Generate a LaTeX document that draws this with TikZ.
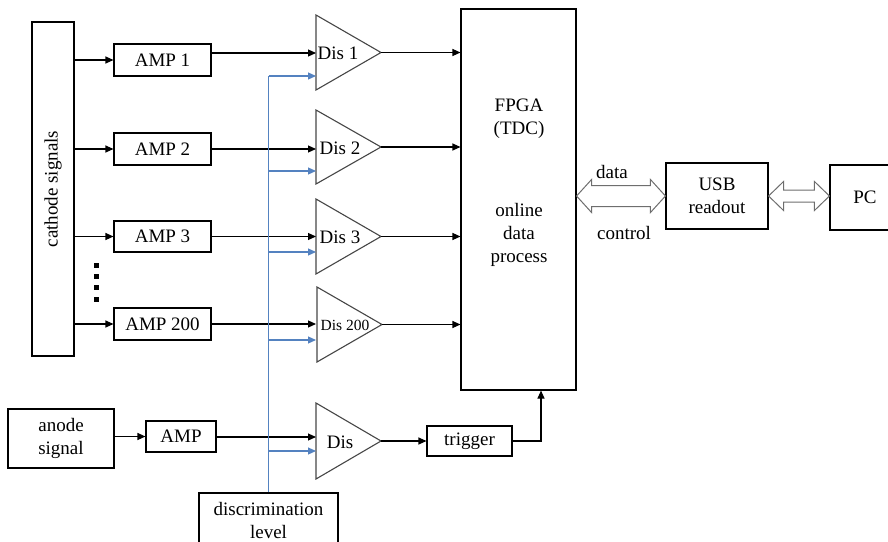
\documentclass[tikz,border=0pt]{standalone}
\usepackage{fontspec}
\setmainfont{Liberation Serif}
\usetikzlibrary{arrows.meta,calc}
\definecolor{lvlblue}{RGB}{84,130,192}
\definecolor{trigray}{RGB}{70,70,70}
\definecolor{dblgray}{RGB}{110,110,110}
\newcommand\dblarr[5]{%
  \draw[dbl] let \p1=(#1), \p2=(#2) in
    (\x1,\y1) -- (\x1+#5,\y1+#4) -- (\x1+#5,\y1+#3) -- (\x2-#5,\y1+#3) -- (\x2-#5,\y1+#4)
    -- (\x2,\y1) -- (\x2-#5,\y1-#4) -- (\x2-#5,\y1-#3) -- (\x1+#5,\y1-#3) -- (\x1+#5,\y1-#4) -- cycle;}
\begin{document}
\begin{tikzpicture}[x=1pt,y=-1pt, font=\fontsize{19}{23}\selectfont,
  box/.style={draw, line width=1.1pt, inner sep=0pt, align=center},
  arr/.style={line width=1.1pt, -{Triangle[length=8pt,width=7pt]}},
  barr/.style={draw=lvlblue, line width=1.1pt, -{Triangle[length=8pt,width=7pt]}, lvlblue},
  tri/.style={draw=trigray, line width=1.1pt, line join=miter},
  dbl/.style={draw=dblgray, line width=1pt, fill=white, line join=miter},
  lbl/.style={inner sep=0pt, align=center}]
\clip (0,0) rectangle (888,541);

% boxes
\node[box, minimum width=42pt, minimum height=334pt] (cath) at (53,189) {};
\node[lbl, rotate=90] (cathlbl) at (cath.center) {cathode signals};
\node[box, minimum width=97pt, minimum height=32pt] (amp1) at (162.5,60) {AMP 1};
\node[box, minimum width=97pt, minimum height=32pt] (amp2) at (162.5,149) {AMP 2};
\node[box, minimum width=97pt, minimum height=31pt] (amp3) at (162.5,236.5) {AMP 3};
\node[box, minimum width=97pt, minimum height=32pt] (amp200) at (162.5,324) {AMP 200};
\node[box, minimum width=106pt, minimum height=59pt] (anode) at (61,438.5) {anode\\signal};
\node[box, minimum width=70pt, minimum height=31pt] (amp) at (181,436.5) {AMP};
\node[box, minimum width=85pt, minimum height=30pt] (trig) at (469.5,441) {trigger};
\node[box, minimum width=115pt, minimum height=381pt] (fpga) at (518.5,199.5) {};
\node[lbl] (fpgat1) at (519,118.5) {FPGA\\(TDC)};
\node[lbl] (fpgat2) at (519,235) {online\\data\\process};
\node[box, minimum width=102pt, minimum height=66pt] (usb) at (717,196) {USB\\readout};
\node[box, minimum width=70pt, minimum height=65pt] (pc) at (865,197.5) {PC};
\node[box, minimum width=139pt, minimum height=54pt] (disc) at (268.5,520) {discrimination\\level};

% discriminator triangles
\coordinate (d1in) at (316,53);   \coordinate (d1ref) at (316,76);   \coordinate (d1out) at (381,52.5);
\coordinate (d2in) at (316,149);  \coordinate (d2ref) at (316,171);  \coordinate (d2out) at (381,147);
\coordinate (d3in) at (316,236.5);\coordinate (d3ref) at (316,252);  \coordinate (d3out) at (381,236.5);
\coordinate (d4in) at (316,324);  \coordinate (d4ref) at (316,340);  \coordinate (d4out) at (382,324.5);
\coordinate (d5in) at (316,437);  \coordinate (d5ref) at (316,451);  \coordinate (d5out) at (381,441);
\draw[tri] (316,15) -- (d1out) -- (316,90) -- cycle;
\draw[tri] (316,110) -- (d2out) -- (316,184) -- cycle;
\draw[tri] (316,199) -- (d3out) -- (316,274) -- cycle;
\draw[tri] (317,287) -- (d4out) -- (317,362) -- cycle;
\draw[tri] (316,403) -- (d5out) -- (316,479) -- cycle;
\node[lbl] (d1) at (338,53) {Dis 1};
\node[lbl] (d2) at (340,148) {Dis 2};
\node[lbl] (d3) at (340,237) {Dis 3};
\node[lbl, font=\fontsize{15.5}{18}\selectfont] (d4) at (345,325) {Dis 200};
\node[lbl] (d5) at (340,442) {Dis};

% cathode -> amps
\draw[arr] (cath.east |- amp1.west) -- (amp1.west);
\draw[arr] (cath.east |- amp2.west) -- (amp2.west);
\draw[arr] (cath.east |- amp3.west) -- (amp3.west);
\draw[arr] (cath.east |- amp200.west) -- (amp200.west);
% amps -> dis
\draw[arr] (amp1.east |- d1in) -- (d1in);
\draw[arr] (amp2.east |- d2in) -- (d2in);
\draw[arr] (amp3.east |- d3in) -- (d3in);
\draw[arr] (amp200.east |- d4in) -- (d4in);
% dis -> fpga
\draw[arr] (d1out) -- (fpga.west |- d1out);
\draw[arr] (d2out) -- (fpga.west |- d2out);
\draw[arr] (d3out) -- (fpga.west |- d3out);
\draw[arr] (d4out) -- (fpga.west |- d4out);
% anode chain
\draw[arr] (anode.east |- amp.west) -- (amp.west);
\draw[arr] (amp.east |- d5in) -- (d5in);
\draw[arr] (d5out) -- (trig.west);
\draw[arr] (trig.east) -| ([xshift=22.5pt]fpga.south);

% dots
\fill (93.5,263) rectangle (98.5,268);
\fill (93.5,274) rectangle (98.5,279);
\fill (93.5,285) rectangle (98.5,290);
\fill (93.5,296.5) rectangle (98.5,301.5);

% discrimination level lines
\draw[lvlblue, line width=1.1pt] (disc.north) -- (disc.north |- d1ref);
\draw[barr] (disc.north |- d1ref) -- (d1ref);
\draw[barr] (disc.north |- d2ref) -- (d2ref);
\draw[barr] (disc.north |- d3ref) -- (d3ref);
\draw[barr] (disc.north |- d4ref) -- (d4ref);
\draw[barr] (disc.north |- d5ref) -- (d5ref);

% double arrows
\dblarr{fpga.east |- usb.west}{usb.west}{10.5pt}{16.5pt}{15pt}
\dblarr{usb.east}{pc.west |- usb.east}{6pt}{14.5pt}{15pt}
\node[lbl] (datalbl) at (612,172) {data};
\node[lbl] (ctrllbl) at (624,233) {control};
\end{tikzpicture}
\end{document}
